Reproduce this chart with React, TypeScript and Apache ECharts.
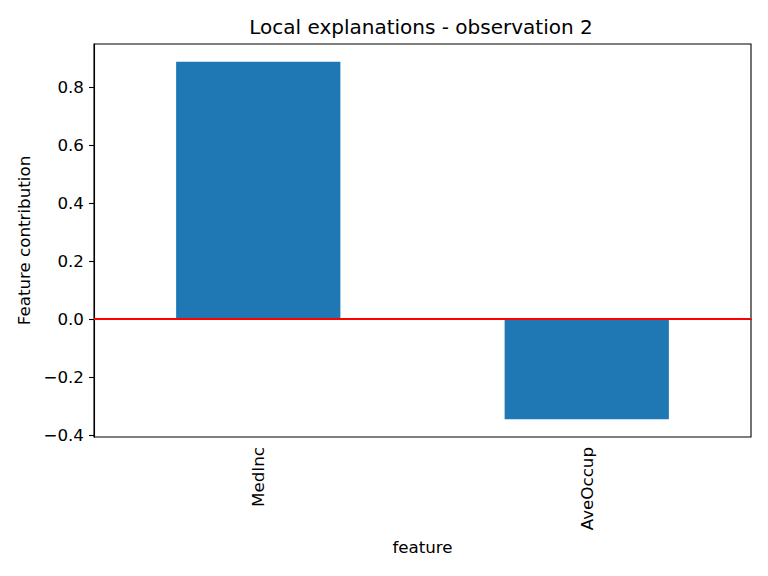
import { useEffect, useRef } from 'react';
import * as echarts from 'echarts';

const features = ['MedInc', 'AveOccup'];
const contributions = [0.887, -0.346];
const yTicks = [-0.4, -0.2, 0.0, 0.2, 0.4, 0.6, 0.8];

const FONT = '"DejaVu Sans", sans-serif';

function fmt(v: number): string {
  const s = Math.abs(v).toFixed(1);
  return v < -1e-9 ? '\u2212' + s : s;
}

export default function App() {
  const chartRef = useRef<HTMLDivElement>(null);

  useEffect(() => {
    if (!chartRef.current) return;
    const chart = echarts.init(chartRef.current, null, { renderer: 'svg' });

    // matplotlib-like 5% margins around the data
    const lo = Math.min(0, ...contributions);
    const hi = Math.max(0, ...contributions);
    const pad = (hi - lo) * 0.05;

    const option = {
      animation: false,
      title: {
        text: 'Local explanations - observation 2',
        left: 416,
        top: 12,
        textAlign: 'center',
        textStyle: { fontFamily: FONT, fontSize: 20, fontWeight: 'normal', color: '#000' },
      },
      grid: {
        left: 94,
        right: 17,
        top: 44,
        bottom: 139,
        show: true,
        borderColor: '#000',
        borderWidth: 1.1,
      },
      xAxis: {
        type: 'category',
        data: features,
        boundaryGap: true,
        name: 'feature',
        nameLocation: 'middle',
        nameGap: 100,
        nameTextStyle: { fontFamily: FONT, fontSize: 16.7, color: '#000' },
        axisLine: { lineStyle: { color: '#000', width: 1.1 } },
        axisTick: { alignWithLabel: true, length: 5, lineStyle: { color: '#000', width: 1.1 } },
        axisLabel: {
          rotate: 90,
          margin: 10,
          fontFamily: FONT,
          fontSize: 16.7,
          color: '#000',
        },
        splitLine: { show: false },
      },
      yAxis: {
        type: 'value',
        min: lo - pad,
        max: hi + pad,
        name: 'Feature contribution',
        nameLocation: 'middle',
        nameGap: 61,
        nameTextStyle: { fontFamily: FONT, fontSize: 16.7, color: '#000' },
        axisLine: { show: true, lineStyle: { color: '#000', width: 1.1 } },
        axisTick: {
          show: true,
          length: 5,
          customValues: yTicks,
          lineStyle: { color: '#000', width: 1.1 },
        },
        axisLabel: {
          customValues: yTicks,
          margin: 10,
          fontFamily: FONT,
          fontSize: 16.7,
          color: '#000',
          formatter: (v: number) => fmt(v),
        },
        splitLine: { show: false },
      },
      series: [
        {
          type: 'bar',
          data: contributions,
          barWidth: '50%',
          itemStyle: { color: '#1f77b4' },
          markLine: {
            silent: true,
            symbol: 'none',
            label: { show: false },
            lineStyle: { color: '#ff0000', width: 2, type: 'solid' },
            data: [{ yAxis: 0 }],
          },
        },
      ],
    };

    chart.setOption(option);

    return () => {
      chart.dispose();
    };
  }, []);

  return <div ref={chartRef} style={{ width: 768, height: 576, margin: -8 }} />;
}
